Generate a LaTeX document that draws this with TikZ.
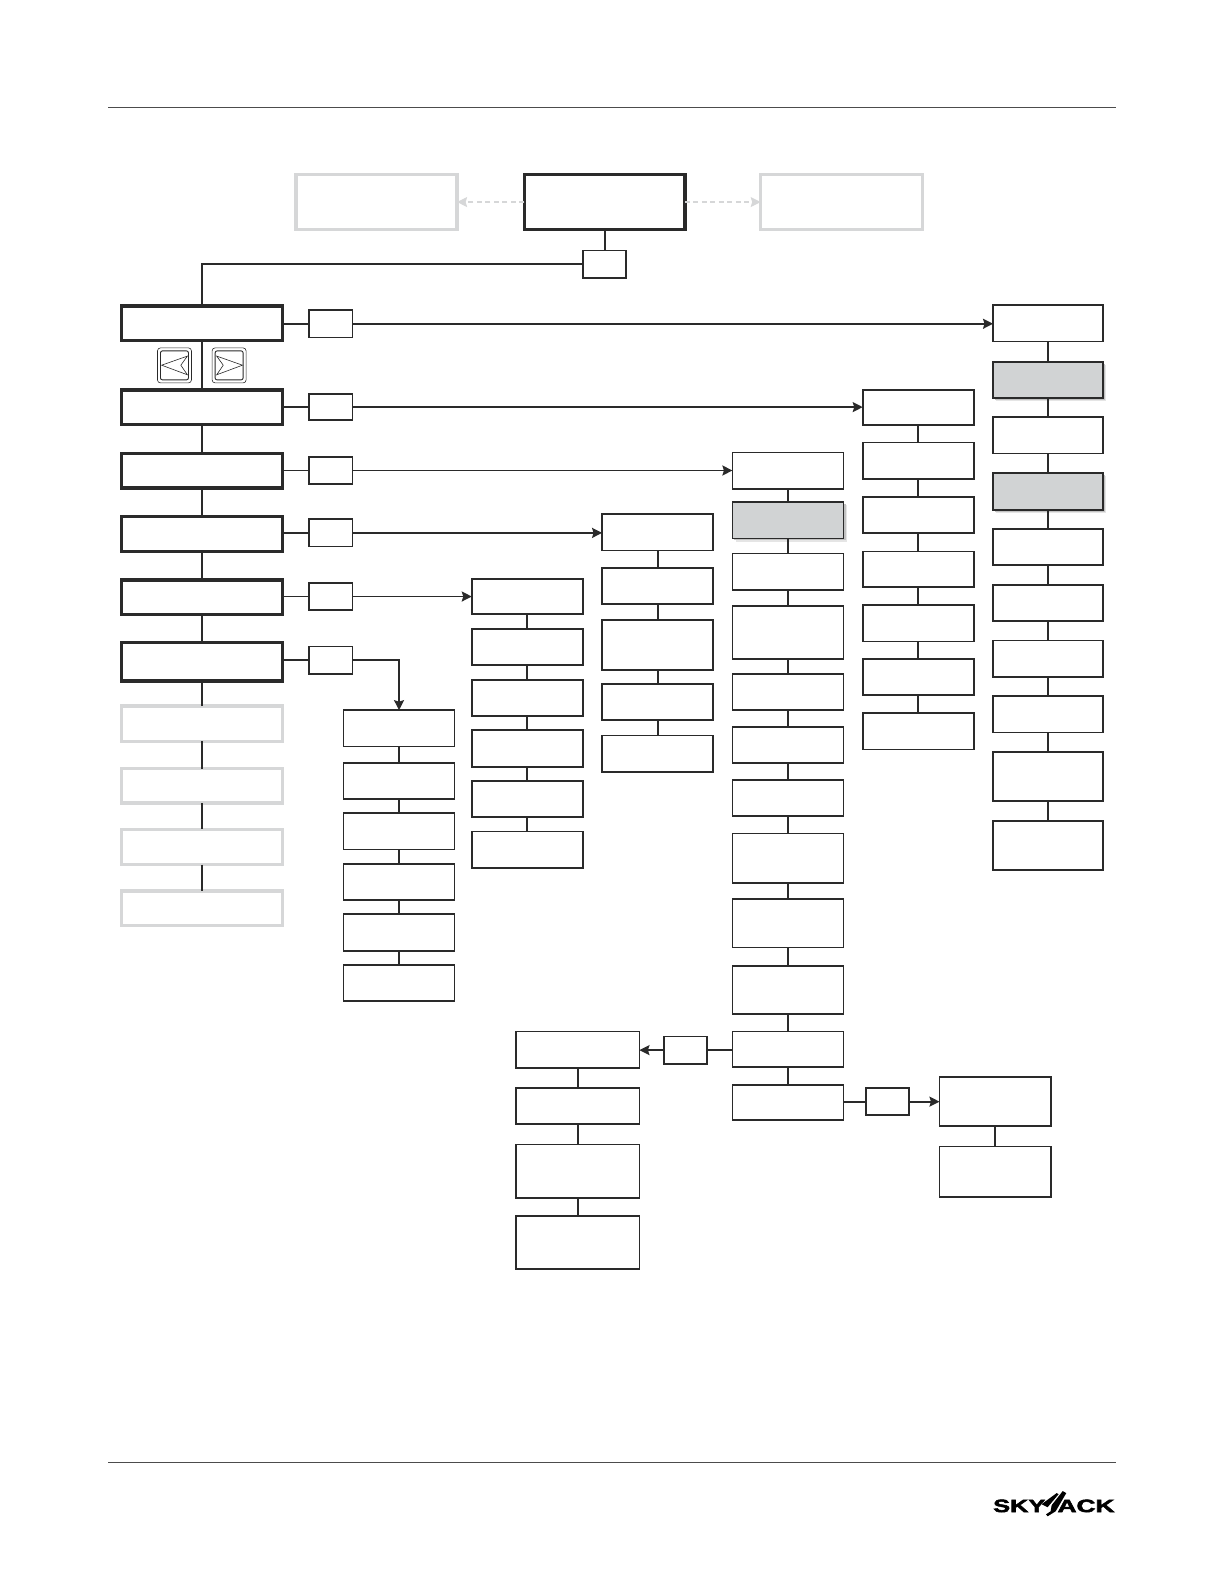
\documentclass[tikz,border=0pt]{standalone}
\usepackage{fontspec}
\usepackage{graphicx}
\setmainfont{Liberation Sans}
\newfontfamily\logofont[FakeBold=2.5]{Liberation Sans Bold}
\usetikzlibrary{arrows.meta,calc}
\definecolor{ink}{HTML}{2A2A2A}
\definecolor{pale}{HTML}{D6D7D8}
\definecolor{shade}{HTML}{D1D3D4}
\tikzset{
  anybox/.style={rectangle,inner sep=0pt,outer sep=0pt,fill=white},
  plainbox/.style={anybox,draw=ink,line width=1.8pt},
  thickbox/.style={anybox,draw=ink,line width=3.4pt},
  palebox/.style={anybox,draw=pale,line width=3.4pt},
  shadebox/.style={anybox,draw=ink,line width=1.8pt,fill=shade,
    preaction={draw=none,fill=black!10,transform canvas={shift={(3.2pt,-3.2pt)}}},
    preaction={draw=none,fill=black!24,transform canvas={shift={(2pt,-2pt)}}}},
  keybox/.style={anybox,draw=ink,line width=1.7pt},
  conn/.style={draw=ink,line width=1.8pt},
  arrowconn/.style={conn,-{Stealth[length=10pt,width=10pt,inset=1.5pt]}},
  paleconn/.style={draw=pale,line width=1.2pt,dash pattern=on 5pt off 3.5pt,
    -{Stealth[length=10pt,width=10pt,inset=1.5pt,fill=pale]}},
  rule/.style={draw=black!70,line width=.9pt},
  keyshape/.style={draw=ink,line width=.6pt,fill=white},
}
\newcommand\bx[6][plainbox]{%
  \pgfmathsetmacro\bw{(#5-#3)*1.0099}%
  \pgfmathsetmacro\bh{(#6-#4)*1.0099}%
  \node[#1,minimum width=\bw pt,minimum height=\bh pt] (#2) at ({(#3+#5)/2},{(#4+#6)/2}) {};%
}
\newcommand\col[4]{%
  \foreach \ya/\yb/\st [count=\i] in {#4} {%
    \bx[\st]{#1\i}{#2}{\ya}{#3}{\yb}%
    \ifnum\i>1 \pgfmathtruncatemacro\p{\i-1}\draw[conn] (#1\p) -- (#1\i);\fi
  }%
}
\begin{document}
\begin{tikzpicture}[x=1.0099pt,y=-1.0099pt]
\useasboundingbox (0,0) rectangle (1212,1568);
% rules
\coordinate (hl) at (107,106.7); \coordinate (hr) at (1105,106.7);
\coordinate (fl) at (107,1447.6); \coordinate (fr) at (1105,1447.6);
\draw[rule] (hl) -- (hr);
\draw[rule] (fl) -- (fr);
% top row
\bx[thickbox]{top}{519}{173}{678}{227}
\bx[palebox]{topl}{293}{173}{452.5}{227}
\bx[palebox]{topr}{753}{173}{913}{227}
\bx[keybox]{ktop}{577}{248}{620}{275}
\draw[paleconn] (top) -- (topl);
\draw[paleconn] (top) -- (topr);
\draw[conn] (top) -- (top |- ktop.north);
% left menu column
\col{m}{120.3}{279.7}{303/337/thickbox,386/420/thickbox,449/483/thickbox,511/546/thickbox,574/608/thickbox,636/674/thickbox,699/734/palebox,761/795/palebox,821/856/palebox,882/916/palebox}
\draw[conn] (ktop.west) -| (m1.north);
% key boxes
\bx[keybox]{k1}{306}{307}{349}{334}
\bx[keybox]{k2}{306}{390}{349}{416}
\bx[keybox]{k3}{306}{452.5}{349}{479}
\bx[keybox]{k4}{306}{514}{349}{541}
\bx[keybox]{k5}{306}{577}{349}{604}
\bx[keybox]{k6}{306}{640}{349}{667}
\foreach \i in {1,...,6} {\draw[conn] (k\i.west -| m\i.east) -- (k\i.west);}
% columns
\col{a}{340}{450}{703/739/plainbox,755/791/plainbox,805/841/plainbox,855/891/plainbox,905/941/plainbox,955/991/plainbox}
\col{b}{467}{577}{573/608/plainbox,623/658/plainbox,673/709/plainbox,723/759/plainbox,773/809/plainbox,823/859/plainbox}
\col{c}{596}{706}{509/545/plainbox,562/598/plainbox,614/663/plainbox,677/713/plainbox,728/764/plainbox}
\col{d}{725}{835}{448/484/plainbox,497/533/shadebox,548/584/plainbox,600/652/plainbox,667/703/plainbox,720/755/plainbox,772/808/plainbox,825/874/plainbox,890/938/plainbox,956/1004/plainbox,1021/1056/plainbox,1074/1109/plainbox}
\col{e}{854}{964}{386/421/plainbox,438/474/plainbox,492/528/plainbox,546/581/plainbox,599/635/plainbox,652/688/plainbox,706/742/plainbox}
\col{f}{983}{1092}{302/338/plainbox,358/394/shadebox,413/449/plainbox,468/505/shadebox,524/559/plainbox,579/615/plainbox,634/670/plainbox,689/725/plainbox,744/793/plainbox,813/861/plainbox}
\col{g}{511}{633}{1021/1057/plainbox,1077/1113/plainbox,1133/1186/plainbox,1204/1256/plainbox}
\col{h}{930}{1040}{1066/1115/plainbox,1135/1185/plainbox}
% menu arrows
\draw[arrowconn] (k1.east) -- (k1.east -| f1.west);
\draw[arrowconn] (k2.east) -- (k2.east -| e1.west);
\draw[arrowconn] (k3.east) -- (k3.east -| d1.west);
\draw[arrowconn] (k4.east) -- (k4.east -| c1.west);
\draw[arrowconn] (k5.east) -- (k5.east -| b1.west);
\draw[arrowconn] (k6.east) -| (a1.north);
% lower branches
\bx[keybox]{k7}{657}{1026}{700}{1053}
\bx[keybox]{k8}{857}{1077}{900}{1104}
\draw[conn] (k7.east -| d11.west) -- (k7.east);
\draw[arrowconn] (k7.west) -- (k7.west -| g1.east);
\draw[conn] (k8.west -| d12.east) -- (k8.west);
\draw[arrowconn] (k8.east) -- (k8.east -| h1.west);
% navigation keys
\node[anybox,draw=ink,line width=.6pt,rounded corners=3pt,minimum width=34pt,minimum height=35pt] (bl) at (172.7,361.7) {};
\node[anybox,draw=ink,line width=.9pt,rounded corners=2pt,minimum width=28pt,minimum height=29pt] (bli) at (bl) {};
\node[anybox,draw=ink,line width=.6pt,rounded corners=3pt,minimum width=34pt,minimum height=35pt] (br) at (226.8,361.7) {};
\node[anybox,draw=ink,line width=.9pt,rounded corners=2pt,minimum width=28pt,minimum height=29pt] (bri) at (br) {};
\draw[keyshape] (160,361.5) -- (185.5,352.5) -- (179,361.5) -- (185.5,371) -- cycle;
\draw[keyshape] (240,361.5) -- (214.5,352.5) -- (221,361.5) -- (214.5,371) -- cycle;
% logo
\node[inner sep=0pt,anchor=west] (logoa) at (983,1490.7) {\resizebox{52pt}{12.5pt}{\logofont SKY}};
\node[inner sep=0pt,anchor=east] (logob) at (1103.5,1490.7) {\resizebox{57pt}{12.5pt}{\logofont ACK}};
\fill[black] (1031,1489) -- (1046,1478) -- (1048,1479) -- (1037,1492) -- cycle;
\fill[black] (1052,1476) -- (1055.5,1478) -- (1045,1496) -- (1037,1501) -- (1035.5,1499) -- (1040,1496) -- (1041,1490) -- cycle;
\end{tikzpicture}
\end{document}
